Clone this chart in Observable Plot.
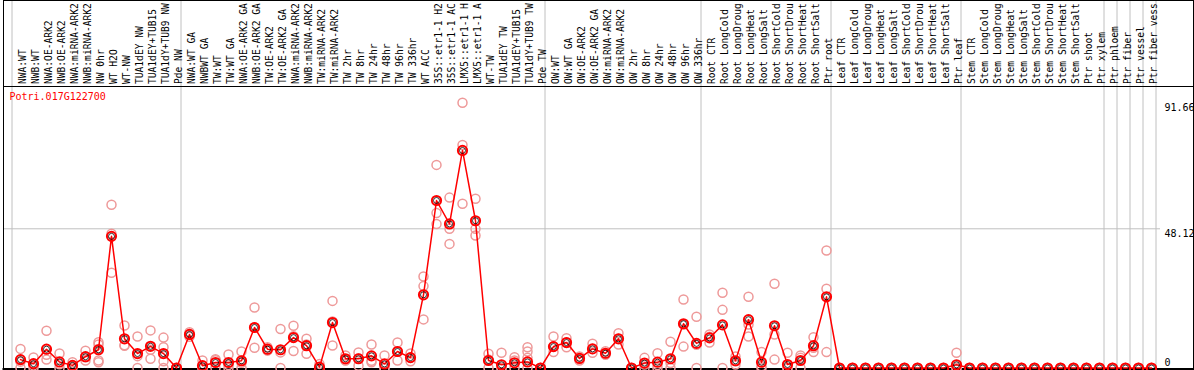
<!DOCTYPE html>
<html><head><meta charset="utf-8">
<script src="https://cdn.jsdelivr.net/npm/d3@7"></script>
<script src="https://cdn.jsdelivr.net/npm/@observablehq/plot@0.6"></script>
<style>
html,body{margin:0;padding:0;background:#fff;}
#chart svg{display:block;}
</style></head><body><div id="chart"></div>
<script>
const geneId = "Potri.017G122700";

const samples = [
  "NWA:WT","NWB:WT","NWA:OE-ARK2","NWB:OE-ARK2","NWA:miRNA-ARK2","NWB:miRNA-ARK2","NW 0hr","WT H2O","WT-NW","TUA1dEY NW","TUA1dEY+TUB15 NW","TUA1dY+TUB9 NW","Pde NW",
  "NWA:WT GA","NWBWT GA","TW:WT","TW:WT GA","NWA:OE-ARK2 GA","NWB:OE-ARK2 GA","TW:OE-ARK2","TW:OE-ARK2 GA","NWA:miRNA-ARK2 GA","NWB:miRNA-ARK2 GA","TW:miRNA-ARK2","TW:miRNA-ARK2 GA","TW 2hr","TW 8hr","TW 24hr","TW 48hr","TW 96hr","TW 336hr","WT ACC","35S::etr1-1 H2O","35S::etr1-1 ACC","LMX5::etr1-1 H2O","LMX5::etr1-1 ACC","WT-TW","TUA1dEY TW","TUA1dEY+TUB15 TW","TUA1dY+TUB9 TW","Pde TW",
  "OW:WT","OW:WT GA","OW:OE-ARK2","OW:OE-ARK2 GA","OW:miRNA-ARK2","OW:miRNA-ARK2 GA","OW 2hr","OW 8hr","OW 24hr","OW 48hr","OW 96hr","OW 336hr",
  "Root CTR","Root LongCold","Root LongDrought","Root LongHeat","Root LongSalt","Root ShortCold","Root ShortDrought","Root ShortHeat","Root ShortSalt","Ptr root",
  "Leaf CTR","Leaf LongCold","Leaf LongDrought","Leaf LongHeat","Leaf LongSalt","Leaf ShortCold","Leaf ShortDrought","Leaf ShortHeat","Leaf ShortSalt","Ptr leaf",
  "Stem CTR","Stem LongCold","Stem LongDrought","Stem LongHeat","Stem LongSalt","Stem ShortCold","Stem ShortDrought","Stem ShortHeat","Stem ShortSalt","Ptr shoot","Ptr xylem",
  "Ptr phloem","Ptr fiber","Ptr vessel","Ptr fiber vessel"
];
const labelChars = 14;

const means = [
  2.9,1.5,6.5,2.1,0.9,3.9,6.3,45.5,10.1,5.0,7.5,5.0,0,
  11.6,0.8,1.9,1.9,2.5,14.0,6.5,6.3,10.5,7.7,0.3,15.7,3.2,3.2,4.2,1.4,5.7,3.6,25.3,57.9,49.8,75.2,50.9,2.6,1.1,1.8,2.1,0,
  7.4,8.8,3.3,6.6,5.1,10.1,0,1.7,2.0,3.2,15.3,8.5,
  10.4,14.9,2.5,16.7,2.0,14.6,1.2,2.6,7.7,24.6,
  0,0,0,0,0,0,0,0,0,1.1,
  0,0,0,0,0,0,0,0,0,0,0,
  0,0,0,0
];

const replicates = [
  [6.6,2.2,0],[3.6,0.9,0],[12.9,4.6,2.9],[5.0,1.3,0],[2.0,0.6,0.1],[6.0,3.7,2.6],[8.9,8.1,6.6,2.6,2.0],[56.4,46.4,32.9],[14.7,7.9,7.7],[10.9,4.1,0],[13.0,6.3,3.2],[10.5,7.2,2.3,0],[0,0,0],
  [12.4,11.6,10.8],[2.6,0,0],[3.0,2.7,0],[4.7,1.0,0],[5.7,1.8,0],[20.9,14.1,7.0],[7.2,6.3,6.0],[13.5,5.4,0],[14.6,11.0,5.9],[10.1,8.1,4.9],[1.4,0,0],[23.2,16.1,7.8],[4.3,2.7,2.6],[5.4,3.4,0.8],[8.1,2.5,2.0],[4.3,0,0],[8.8,5.7,2.6],[5.0,3.5,2.3],[31.6,28.3,16.8],[70.2,53.6,49.8],[58.9,48.1,42.9],[91.66,77.1,56.8],[58.5,48.1,45.8],[4.9,2.9,0],[5.3,0,0],[3.7,2.6,0],[7.2,5.7,3.5,0],[0,0,0],
  [10.9,7.4,5.5],[10.3,8.8,7.2],[4.0,3.3,2.6],[8.4,6.6,5.3],[5.8,4.8,4.6],[12.0,10.1,8.1],[0,0,0],[3.5,1.2,0],[5.1,1.0,0],[9.1,1.7,0],[23.7,15.0,7.4],[17.7,8.0,0],
  [11.6,10.8,8.8],[26.0,20.1,0],[4.0,2.3,1.2],[24.6,15.0,10.9],[5.5,0.6,0],[29.1,11.6,2.9],[5.3,0,0],[4.3,3.5,0],[10.6,7.0,5.5],[40.6,27.4,5.5],
  [0,0,0],[0,0,0],[0,0,0],[0,0,0],[0,0,0],[0,0,0],[0,0,0],[0,0,0],[0,0,0],[5.3,0,0],
  [0,0,0],[0,0,0],[0,0,0],[0,0,0],[0,0,0],[0,0,0],[0,0,0],[0,0,0],[0,0,0],[0,0,0],[0,0,0],
  [0,0,0],[0,0,0],[0,0,0],[0,0,0]
];

const groupStarts = ["NWA:WT","NWA:WT GA","OW:WT","Root CTR","Leaf CTR","Stem CTR","Ptr phloem","Ptr fiber","Ptr vessel","Ptr fiber vessel"];
const groupEnds = ["Ptr fiber vessel"];
const yLabelsTop = [91.66, 48.12];
const yLabelsZero = [0];
const yGrid = [48.12];
const yMax = 97.3;

const meanData = samples.map((s, i) => ({sample: s, value: means[i]}));
const repData = samples.flatMap((s, i) => replicates[i].map(v => ({sample: s, value: v})));

const mono = "'DejaVu Sans Mono', monospace";
const grid = "#c0c0c0";

const chart = Plot.plot({
  width: 1194, height: 370,
  marginTop: 86, marginBottom: 2.5, marginLeft: 11, marginRight: 39,
  style: {fontFamily: mono, fontSize: "10px", background: "#fff", color: "#000"},
  x: {type: "point", domain: samples, padding: 0.5, axis: null},
  y: {domain: [0, yMax], axis: null},
  marks: [
    Plot.ruleX(groupStarts, {x: d => d, dx: -6.5, stroke: grid, insetTop: -86, insetBottom: -2.5}),
    Plot.ruleX(groupEnds, {x: d => d, dx: 6.5, stroke: grid, insetTop: -86, insetBottom: -2.5}),
    Plot.ruleY(yGrid, {y: d => d, stroke: grid, insetLeft: -8, insetRight: -5}),
    Plot.frame({stroke: "#000", insetLeft: -8, insetRight: -38, insetTop: -86, insetBottom: -2}),
    Plot.frame({anchor: "top", stroke: "#000", insetLeft: -8, insetRight: -38}),
    Plot.frame({anchor: "bottom", stroke: "#000", strokeWidth: 2, insetLeft: -8, insetRight: -38, insetBottom: -1}),
    Plot.text(samples, {x: d => d, text: d => d.slice(0, labelChars), frameAnchor: "top", rotate: -90, textAnchor: "start", dy: -2.5, dx: 1, fontSize: 9.6, fill: "#000"}),
    Plot.text([geneId], {frameAnchor: "top-left", textAnchor: "start", lineAnchor: "top", dx: -2, dy: 6, fill: "#ff0000", fontSize: 10}),
    Plot.text(yLabelsTop, {y: d => d, text: d => String(d), frameAnchor: "right", textAnchor: "start", lineAnchor: "top", dx: 9, dy: 1, fill: "#000", fontSize: 10}),
    Plot.text(yLabelsZero, {y: d => d, text: d => String(d), frameAnchor: "right", textAnchor: "start", lineAnchor: "bottom", dx: 9, dy: -2, fill: "#000", fontSize: 10}),
    Plot.dot(repData, {x: "sample", y: "value", dx: 2, r: 4.5, stroke: "#ee9999", strokeWidth: 1.5, fill: "none"}),
    Plot.line(meanData, {x: "sample", y: "value", dx: 2, stroke: "#ff0000", strokeWidth: 1.5}),
    Plot.dot(meanData, {x: "sample", y: "value", dx: 2, r: 4.6, stroke: "#ff0000", strokeWidth: 2, fill: "none"}),
    Plot.dot(meanData, {x: "sample", y: "value", dx: 2, r: 3, stroke: "#000", strokeWidth: 0.8, fill: "none"})
  ]
});
document.getElementById("chart").append(chart);
</script>
</body></html>
